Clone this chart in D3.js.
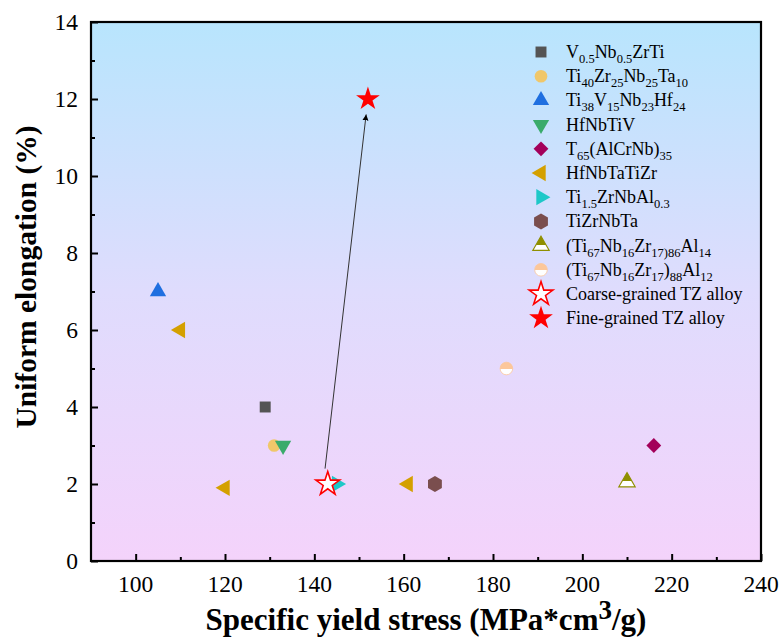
<!DOCTYPE html>
<html lang="en">
<head>
<meta charset="utf-8">
<title>Uniform elongation vs specific yield stress</title>
<script src="https://cdn.jsdelivr.net/npm/d3@7"></script>
<style>
  body { margin: 0; background: #fff; }
</style>
</head>
<body>
<script>
// data, one array per series
var alloyNames = ["V{0.5}Nb{0.5}ZrTi", "Ti{40}Zr{25}Nb{25}Ta{10}", "Ti{38}V{15}Nb{23}Hf{24}", "HfNbTiV",
  "T{65}(AlCrNb){35}", "HfNbTaTiZr", "Ti{1.5}ZrNbAl{0.3}", "TiZrNbTa",
  "(Ti{67}Nb{16}Zr{17)86}Al{14}", "(Ti{67}Nb{16}Zr{17}){88}Al{12}", "Coarse-grained TZ alloy", "Fine-grained TZ alloy"];
var stress = [[129], [131], [105], [133], [216], [110, 120, 161], [145], [167], [210], [183], [143], [152]];
var elong = [[4], [3], [7], [3], [3], [6, 1.9, 2], [2], [2], [2.05], [5], [2], [12]];
var markers = ["square", "circle", "triUp", "triDown", "diamond", "triLeft", "triRight", "hexagon", "triHalf", "circleHalf", "starOpen", "star"];
var colors = ["#545454", "#f0c76a", "#1f6fe0", "#3aab6b", "#a3005a", "#d4a000", "#1ec8c8", "#7a4e4e", "#8f8f00", "#fcc79a", "#ff0000", "#ff0000"];
var xTicks = [100, 120, 140, 160, 180, 200, 220, 240];
var yTicks = [0, 2, 4, 6, 8, 10, 12, 14];
var arrowFrom = [142.4, 2.4], arrowTo = [151.6, 11.6];

var FONT = "'Liberation Serif', 'DejaVu Serif', 'Times New Roman', serif";
var W = 779, H = 639;
var m = { left: 91, right: 18, top: 22, bottom: 78 };
var iw = W - m.left - m.right, ih = H - m.top - m.bottom;

var x = d3.scaleLinear().domain([90, 240]).range([0, iw]);
var y = d3.scaleLinear().domain([0, 14]).range([ih, 0]);

var svg = d3.select("body").append("svg").attr("width", W).attr("height", H)
  .attr("font-family", FONT);
var defs = svg.append("defs");

var bg = defs.append("linearGradient").attr("id", "bg").attr("x1", 0).attr("y1", 0).attr("x2", 0).attr("y2", 1);
bg.append("stop").attr("offset", "0%").attr("stop-color", "#b8e5fd");
bg.append("stop").attr("offset", "50%").attr("stop-color", "#dfdcfd");
bg.append("stop").attr("offset", "100%").attr("stop-color", "#f4d3fb");

function halfGrad(id, col, cut) {
  var g = defs.append("linearGradient").attr("id", id).attr("x1", 0).attr("y1", 0).attr("x2", 0).attr("y2", 1);
  g.append("stop").attr("offset", cut).attr("stop-color", col);
  g.append("stop").attr("offset", cut).attr("stop-color", "#fff");
}
halfGrad("halfTri", colors[8], "62%");
halfGrad("halfCirc", colors[9], "50%");

var g = svg.append("g").attr("transform", "translate(" + m.left + "," + m.top + ")");
g.append("rect").attr("width", iw).attr("height", ih).attr("fill", "url(#bg)");

// symbol paths
var hexPath = (function () {
  var r = 8, pts = [];
  for (var i = 0; i < 6; i++) { var a = Math.PI / 6 + i * Math.PI / 3; pts.push([r * Math.cos(a), r * Math.sin(a)]); }
  return "M" + pts.join("L") + "Z";
})();
function shape(k) {
  var s = d3.symbol();
  if (k == "square") return { d: s.type(d3.symbolSquare).size(120)(), rot: 0 };
  if (k == "circle" || k == "circleHalf") return { d: s.type(d3.symbolCircle).size(125)(), rot: 0 };
  if (k == "diamond") return { d: s.type(d3.symbolSquare).size(110)(), rot: 45 };
  if (k == "hexagon") return { d: hexPath, rot: 0 };
  if (k == "star" || k == "starOpen") return { d: s.type(d3.symbolStar).size(175)(), rot: 0 };
  var tri = s.type(d3.symbolTriangle).size(115)();
  var rot = { triUp: 0, triHalf: 0, triDown: 180, triLeft: -90, triRight: 90 }[k];
  return { d: tri, rot: rot };
}
function drawMarker(sel, i, px, py) {
  var k = markers[i], sh = shape(k);
  var p = sel.append("path").attr("d", sh.d)
    .attr("transform", "translate(" + px + "," + py + ") rotate(" + sh.rot + ")")
    .attr("fill", colors[i]);
  if (k == "starOpen") p.attr("fill", "#fff").attr("stroke", colors[i]).attr("stroke-width", 1.6);
  if (k == "triHalf") p.attr("fill", "url(#halfTri)").attr("stroke", colors[i]).attr("stroke-width", 1.2);
  if (k == "circleHalf") p.attr("fill", "url(#halfCirc)").attr("stroke", colors[i]).attr("stroke-width", 0.8);
}

// arrow
defs.append("marker").attr("id", "ah").attr("viewBox", "0 0 10 10").attr("refX", 10).attr("refY", 5)
  .attr("markerWidth", 6).attr("markerHeight", 14).attr("markerUnits", "userSpaceOnUse").attr("orient", "auto")
  .append("path").attr("d", "M0,0L10,5L0,10Z").attr("fill", "#000");

// points (star arrow drawn before its end marker)
for (var i = 0; i < alloyNames.length; i++) {
  if (i == 10) {
    g.append("line").attr("x1", x(arrowFrom[0])).attr("y1", y(arrowFrom[1]))
      .attr("x2", x(arrowTo[0])).attr("y2", y(arrowTo[1]))
      .attr("stroke", "#333").attr("stroke-width", 1).attr("marker-end", "url(#ah)");
  }
  for (var j = 0; j < stress[i].length; j++) drawMarker(g, i, x(stress[i][j]), y(elong[i][j]));
}

// axes
var xAxis = d3.axisBottom(x).tickValues(d3.range(100, 241, 10)).tickSize(-7).tickFormat("");
g.append("g").attr("transform", "translate(0," + ih + ")").call(xAxis)
  .call(function (a) { a.selectAll(".tick line").filter(function (d) { return d % 20 != 0; }).attr("y2", -4); });
var yAxis = d3.axisLeft(y).tickValues(d3.range(0, 14.1, 1)).tickSize(-7).tickFormat("");
g.append("g").call(yAxis)
  .call(function (a) { a.selectAll(".tick line").filter(function (d) { return d % 2 != 0; }).attr("x2", 4); });
g.selectAll(".domain").remove();
g.selectAll(".tick line").attr("stroke", "#000").attr("stroke-width", 2);
g.append("rect").attr("width", iw).attr("height", ih).attr("fill", "none").attr("stroke", "#000").attr("stroke-width", 2.2);

g.selectAll(".xl").data(xTicks).enter().append("text")
  .attr("x", function (d) { return x(d); }).attr("y", ih + 31).attr("font-family", FONT)
  .attr("text-anchor", "middle").attr("font-size", 23.5).text(function (d) { return d; });
g.selectAll(".yl").data(yTicks).enter().append("text")
  .attr("x", -13).attr("y", function (d) { return y(d) + 8; }).attr("font-family", FONT)
  .attr("text-anchor", "end").attr("font-size", 23.5).text(function (d) { return d; });

// axis titles
var xt = svg.append("text").attr("x", m.left + iw / 2).attr("y", 630).attr("text-anchor", "middle")
  .attr("font-size", 31).attr("font-weight", "bold").attr("font-family", FONT);
xt.append("tspan").text("Specific yield stress (MPa*cm");
xt.append("tspan").attr("dy", -11).attr("font-size", 27).text("3");
xt.append("tspan").attr("dy", 11).text("/g)");
svg.append("text").attr("transform", "translate(36,277) rotate(-90)").attr("font-family", FONT)
  .attr("text-anchor", "middle").attr("font-size", 29.5).attr("font-weight", "bold").text("Uniform elongation (%)");

// legend
var lg = svg.append("g").attr("transform", "translate(541,52)");
alloyNames.forEach(function (name, i) {
  var row = lg.append("g").attr("transform", "translate(0," + i * 24.2 + ")");
  drawMarker(row, i, 0, 0);
  var t = row.append("text").attr("x", 25).attr("y", 6).attr("font-size", 18).attr("font-family", FONT);
  var parts = name.split(/(\{[^}]*\})/);
  var sub = false;
  parts.forEach(function (p) {
    if (!p) return;
    if (p[0] == "{") {
      t.append("tspan").attr("dy", sub ? 0 : 5).attr("font-size", 12.5).text(p.slice(1, -1));
      sub = true;
    } else {
      t.append("tspan").attr("dy", sub ? -5 : 0).text(p);
      sub = false;
    }
  });
});
</script>
</body>
</html>
